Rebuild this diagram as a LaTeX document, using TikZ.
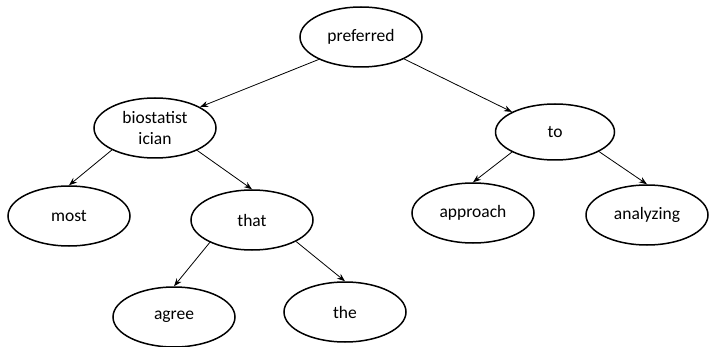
\documentclass[tikz,border=0pt]{standalone}
\usepackage{fontspec}
\setmainfont{Carlito}
\usetikzlibrary{shapes.geometric,arrows.meta}

\begin{document}
\begin{tikzpicture}[x=1pt,y=1pt,
        word/.style={ellipse, draw, line width=1.5pt, minimum width=122pt, minimum height=60pt,
            inner sep=0pt, align=center, font=\fontsize{17.5}{21.5}\selectfont},
        link/.style={line width=0.8pt, -{Stealth[length=8pt,width=6pt]}}]
    \useasboundingbox (0,0) rectangle (710,346);
    \node[word] (preferred) at (361,309) {preferred};
    \node[word] (biostat) at (155,218) {biostatist\\ician};
    \node[word] (most) at (69,130) {most};
    \node[word] (that) at (252,126) {that};
    \node[word] (agree) at (174,29) {agree};
    \node[word] (the) at (345,34) {the};
    \node[word, minimum width=119pt, minimum height=56pt] (to) at (555,214) {to};
    \node[word] (approach) at (473,133) {approach};
    \node[word] (analyzing) at (647,131) {analyzing};
    \draw[link] (preferred.208) -- (biostat.25);
    \draw[link] (preferred.333) -- (to.155);
    \draw[link] (biostat.207) -- (most.north);
    \draw[link] (biostat.332) -- (that.north);
    \draw[link] (that.208) -- (agree.north);
    \draw[link] (that.334) -- (the.north);
    \draw[link] (to.205) -- (approach.north);
    \draw[link] (to.336) -- (analyzing.north);
\end{tikzpicture}
\end{document}
